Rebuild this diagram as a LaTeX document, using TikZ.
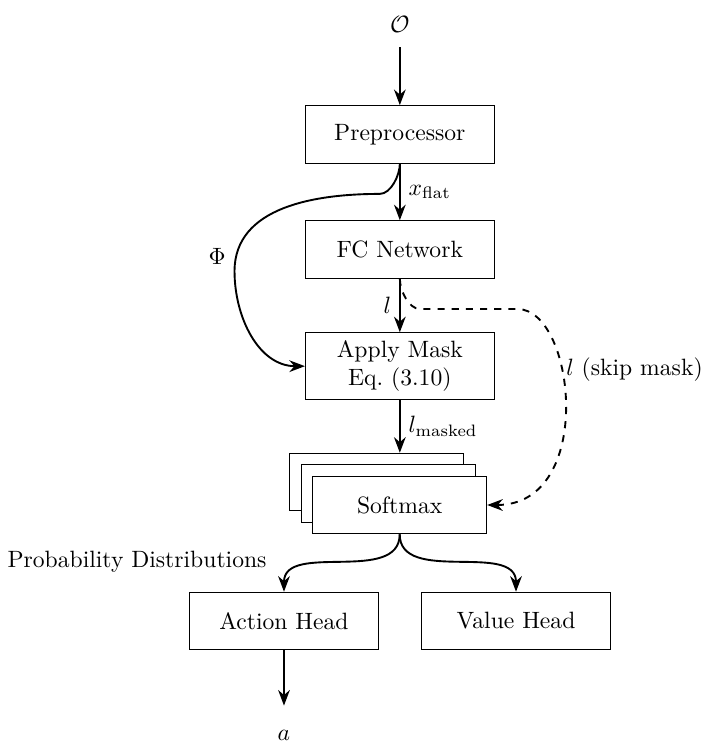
\documentclass[tikz,border=0pt]{standalone}
\usepackage{amsmath}
\usepackage{amssymb}
\usetikzlibrary{arrows.meta}

\tikzset{
  block/.style={draw, minimum width=2.81cm, minimum height=0.857cm, align=center},
  smbox/.style={draw, fill=white, minimum width=2.59cm, minimum height=0.857cm},
  flow/.style={thick, -{Stealth}},
}

\begin{document}
\begin{tikzpicture}
    % the frame of the page
    \useasboundingbox (0,0) rectangle (10.64,-11.146);

    % the blocks down the middle
    \node (obs) at (5.95,-0.37) {$\mathcal{O}$};
    \node[block] (pre) at (5.95,-2.0) {Preprocessor};
    \node[block] (fc) at (5.95,-3.713) {FC Network};
    \node[block] (mask) at (5.95,-5.449) {Apply Mask\\Eq.~(3.10)};

    % the stack of softmax boxes, back to front
    \node[smbox] (smC) at (5.603,-7.173) {};
    \node[smbox] (smB) at (5.776,-7.344) {};
    \node[smbox] (sm) at (5.948,-7.515) {Softmax};

    % the two heads
    \node[block] (act) at (4.226,-9.241) {Action Head};
    \node[block] (val) at (7.679,-9.241) {Value Head};
    \node (out) at (4.226,-10.94) {$a$};
    \node[anchor=east] (probs) at (4.09,-8.36) {Probability Distributions};

    % the main flow
    \draw[flow,shorten <=2.5pt] (obs) -- (pre);
    \draw[flow] (pre) -- node[right]{$x_{\text{flat}}$} (fc);
    \draw[flow] (fc) -- node[left]{$l$} (mask);
    \draw[flow] (mask) -- node[right]{$l_{\text{masked}}$} (mask.south |- smC.north);

    % the mask input
    \draw[flow] (pre.south) to[out=-90,in=0,looseness=0.8] ++(-0.3,-0.45)
    to[out=180,in=90] ++(-2.16,-1.15) node[left,yshift=0.22cm]{$\Phi$}
    to[out=-90,in=180] (mask.west);
    % the dashed way round the mask
    \draw[flow,dashed] (fc.south) to[out=-90,in=180,looseness=0.8] ++(0.3,-0.45)
    -- ++(1.45,0)
    to[out=0,in=0,out looseness=0.75,in looseness=1.4]
    node[pos=0.37,right,inner sep=1.5pt]{$l$ (skip mask)} (sm.east);

    % the split into the heads
    \draw[flow] (sm.south) to[out=-90,in=90] (act.north);
    \draw[flow] (sm.south) to[out=-90,in=90] (val.north);
    \draw[flow,shorten >=0.24cm] (act) -- (out);
\end{tikzpicture}
\end{document}
